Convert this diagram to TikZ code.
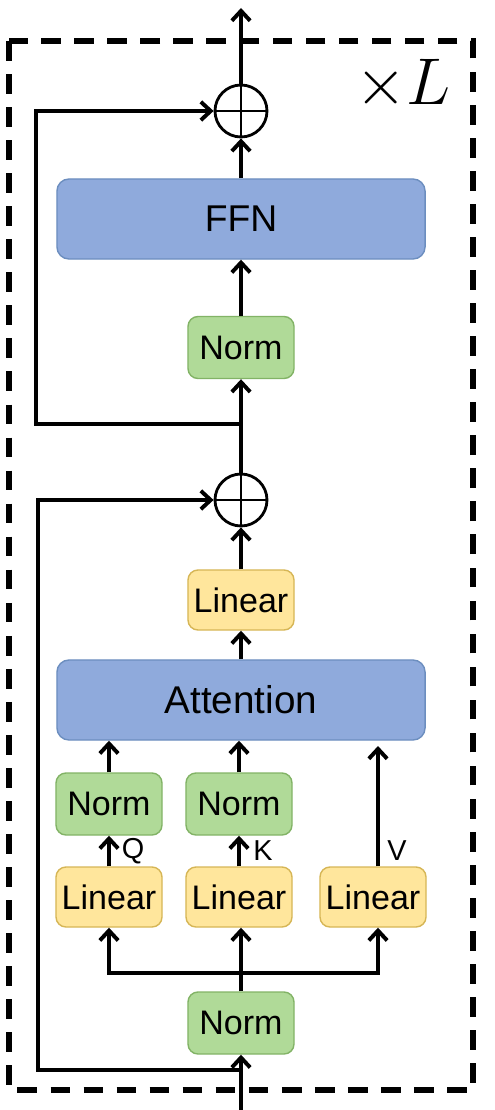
\RequirePackage{fix-cm}
\documentclass[tikz,border=0pt]{standalone}
\usepackage{fontspec}
\setmainfont{Liberation Sans}
\usepackage{tikz}
\usetikzlibrary{arrows,arrows.meta,calc}
\usetikzlibrary{positioning}
\definecolor{blockfill}{HTML}{8FAADC}
\definecolor{blockdraw}{HTML}{6C8EBF}
\definecolor{normfill}{HTML}{B0DA98}
\definecolor{normdraw}{HTML}{82B366}
\definecolor{linfill}{HTML}{FFE69C}
\definecolor{lindraw}{HTML}{D6B656}
\tikzset{
    bigblock/.style={
           rectangle,
           rounded corners=0.3cm,
           draw=blockdraw, line width=1pt,
           fill=blockfill,
           minimum width=9.2cm,
           minimum height=2cm,
           inner sep=0pt,
           font=\fontsize{26.5}{30}\selectfont,
           },
    normbox/.style={
           rectangle,
           rounded corners=0.25cm,
           draw=normdraw, line width=1pt,
           fill=normfill,
           minimum width=2.65cm,
           minimum height=1.55cm,
           inner sep=0pt,
           font=\fontsize{24.2}{28}\selectfont,
           },
    linbox/.style={
           normbox,
           draw=lindraw,
           fill=linfill,
           minimum height=1.5cm,
           },
    plus/.style={
           circle,
           draw, line width=2pt,
           minimum size=1.3cm,
           inner sep=0pt,
           path picture={
               \draw[line width=1.7pt] (path picture bounding box.north) -- (path picture bounding box.south);
               \draw[line width=1.7pt] (path picture bounding box.west) -- (path picture bounding box.east);
           },
           },
    pil/.style={
           -{Straight Barb[length=7pt,width=13pt]},
           line width=2.8pt,
           },
    wire/.style={
           line width=2.8pt,
           },
    qkv/.style={
           font=\fontsize{20.5}{22}\selectfont,
           inner sep=0pt,
           },
    frame/.style={
           line width=4.5pt,
           dash pattern=on 14pt off 9.5pt,
           },
}
\begin{document}
\begin{tikzpicture}[x=0.025cm,y=-0.025cm]
\useasboundingbox (0,0) rectangle (494,1110);
\draw[frame] (9,41) rectangle (473,1090);
\node (times) at (403,85) {\fontsize{47}{52}\selectfont $\times L$};
% main column
\node (pt) at (241,111) [plus] {};
\node (ffn) at (241,219) [bigblock] {FFN};
\node (n3) at (241,347.5) [normbox] {Norm};
\node (pb) at (241,500) [plus] {};
\node (lo) at (241,600) [linbox] {Linear};
\node (att) at (241,700) [bigblock, font=\fontsize{27.5}{30}\selectfont] {Attention};
\node (nq) at (109,804) [normbox] {Norm};
\node (nk) at (239,804) [normbox] {Norm};
\node (lq) at (109,897) [linbox] {Linear};
\node (lk) at (239,897) [linbox] {Linear};
\node (lv) at (373,897) [linbox] {Linear};
\node (n0) at (241,1023) [normbox] {Norm};
\node (q) at (133,851) [qkv] {Q};
\node (k) at (263,851) [qkv] {K};
\node (v) at (397,851) [qkv] {V};
\coordinate (out) at (241,8);
\coordinate (in) at (241,1110);
\coordinate (tap1) at (241,424);
\coordinate (c1) at (36,424);
\coordinate (tap2) at (241,1070);
\coordinate (c2) at (38,1070);
\coordinate (br) at (241,973);
\coordinate (vtop) at (378,746);
% connectors
\path (pt) edge[pil] (out);
\path (ffn) edge[pil] (pt);
\path (n3) edge[pil] (ffn);
\path (pb) edge[pil] (n3);
\path (lo) edge[pil] (pb);
\path (att) edge[pil] (lo);
\path (nq) edge[pil] (nq |- att.south);
\path (nk) edge[pil] (nk |- att.south);
\path (lq) edge[pil] (nq);
\path (lk) edge[pil] (nk);
\draw[pil] (lv.north -| vtop) -- (vtop);
\draw[wire] (n0) -- (br);
\draw[pil] (br) -| (lq.south);
\draw[pil] (br) -| (lv.south -| vtop);
\draw[pil] (br) -- (lk.south -| br);
\path (in) edge[pil] (n0);
\draw[pil] (tap1) -- (c1) |- (pt);
\draw[pil] (tap2) -- (c2) |- (pb);
\end{tikzpicture}
\end{document}
